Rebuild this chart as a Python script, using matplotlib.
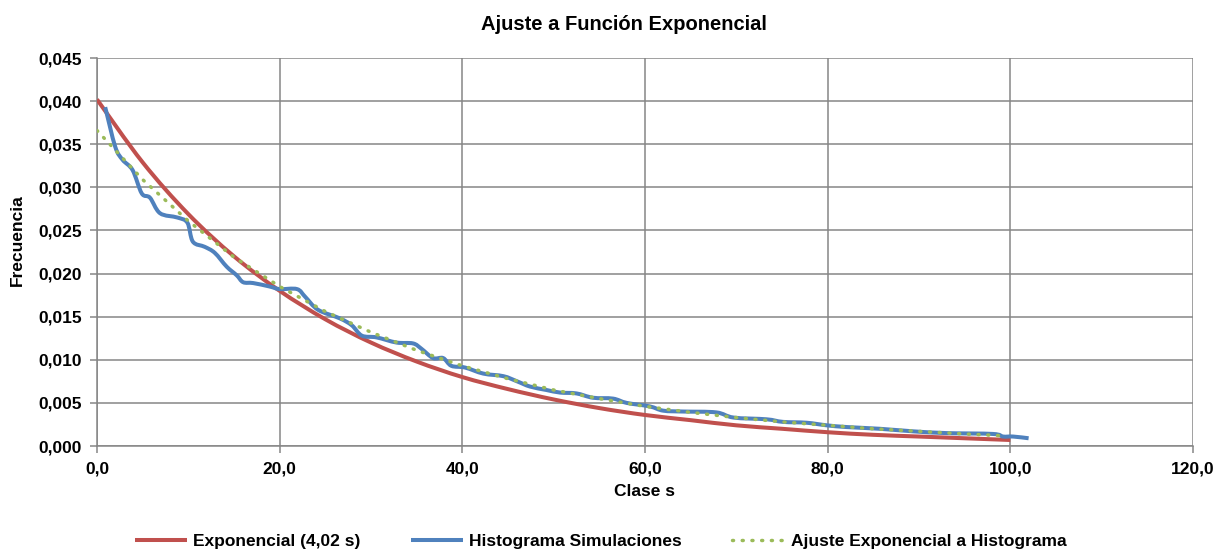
import numpy as np
import matplotlib
matplotlib.use('Agg')
import matplotlib.pyplot as plt
from matplotlib.path import Path
from matplotlib.patches import PathPatch
from matplotlib.lines import Line2D
from matplotlib.ticker import FuncFormatter, MultipleLocator

# Curva exponencial teórica (media 4,02 s)
exp_x = [0, 5, 10, 15, 20, 25, 30, 35, 40, 45, 50, 55, 60, 65, 70, 75, 80, 85, 90, 95, 100]
exp_y = [0.0402, 0.0329, 0.0269, 0.0220, 0.0180, 0.0147, 0.0120, 0.0098, 0.0080, 0.0066, 0.0054,
         0.0044, 0.0036, 0.0030, 0.0024, 0.0020, 0.0016, 0.0013, 0.0011, 0.0009, 0.0007]

# Histograma de las simulaciones
hist_x = [0.9, 2.0, 2.8, 3.9, 4.9, 5.8, 6.9, 8.8, 9.9, 10.5, 11.8, 12.9, 14.2, 15.3, 16.0, 17.1,
          18.9, 20.0, 21.9, 22.8, 24.2, 26.6, 27.9, 29.0, 30.6, 32.8, 34.6, 35.5, 36.8, 37.9, 38.8,
          40.3, 42.3, 44.5, 46.0, 47.4, 49.2, 50.7, 52.5, 54.3, 56.5, 58.0, 60.5, 62.0, 64.2, 67.8,
          69.7, 73.3, 75.1, 77.7, 79.9, 82.1, 85.7, 89.4, 93.0, 98.1, 99.2, 100.3, 102.0]
hist_y = [0.0393, 0.0347, 0.0332, 0.0320, 0.0293, 0.0288, 0.0270, 0.0265, 0.0259, 0.0237, 0.0231,
          0.0224, 0.0208, 0.0198, 0.0190, 0.0189, 0.0185, 0.0182, 0.0182, 0.0173, 0.0158, 0.0148,
          0.0140, 0.0128, 0.0126, 0.0120, 0.0119, 0.0113, 0.0102, 0.0102, 0.0093, 0.0091, 0.0084,
          0.0081, 0.0075, 0.0069, 0.0065, 0.0062, 0.0061, 0.0056, 0.0055, 0.0050, 0.0046, 0.0041,
          0.0040, 0.0039, 0.0033, 0.0031, 0.0028, 0.0027, 0.0024, 0.0022, 0.0020, 0.0017, 0.0015,
          0.0014, 0.0011, 0.0011, 0.0009]

# Ajuste exponencial al histograma
fit_x = [0, 5, 10, 15, 20, 25, 30, 35, 40, 45, 50, 55, 60, 65, 70, 75, 80, 85, 90, 95, 99]
fit_y = [0.0366, 0.0309, 0.0261, 0.0219, 0.0185, 0.0156, 0.0132, 0.0111, 0.0093, 0.0078, 0.0065,
         0.0055, 0.0046, 0.0039, 0.0033, 0.0028, 0.0024, 0.0020, 0.0017, 0.0014, 0.0012]

RED, BLUE, GREEN = '#C0504D', '#4F81BD', '#9BBB59'
DOTS = (0, (0.3, 2.5))


def smooth_path(xs, ys):
    # curva suavizada tipo Excel (Catmull-Rom -> Bezier cubico)
    p = np.column_stack([xs, ys])
    verts = [p[0]]
    codes = [Path.MOVETO]
    n = len(p)
    for i in range(n - 1):
        p0 = p[i - 1] if i > 0 else p[i]
        p3 = p[i + 2] if i + 2 < n else p[i + 1]
        c1 = p[i] + (p[i + 1] - p0) / 6
        c2 = p[i + 1] - (p3 - p[i]) / 6
        verts += [c1, c2, p[i + 1]]
        codes += [Path.CURVE4] * 3
    return Path(verts, codes)


plt.rcParams['font.family'] = ['Liberation Sans', 'DejaVu Sans']
plt.rcParams['font.weight'] = 'bold'

fig = plt.figure(figsize=(12.26, 5.54), dpi=100)
ax = fig.add_axes([0.0791, 0.1949, 0.894, 0.7004])

ax.add_patch(PathPatch(smooth_path(exp_x, exp_y), fill=False, edgecolor=RED, lw=2.9,
                       capstyle='butt', joinstyle='round', zorder=3))
ax.add_patch(PathPatch(smooth_path(hist_x, hist_y), fill=False, edgecolor=BLUE, lw=2.9,
                       capstyle='butt', joinstyle='round', zorder=4))
ax.plot(fit_x, fit_y, color=GREEN, lw=2.5, linestyle=DOTS, dash_capstyle='round', zorder=5)

ax.set_xlim(0, 120)
ax.set_ylim(0, 0.045)
ax.xaxis.set_major_locator(MultipleLocator(20))
ax.yaxis.set_major_locator(MultipleLocator(0.005))
ax.xaxis.set_major_formatter(FuncFormatter(lambda v, p: f'{v:.1f}'.replace('.', ',')))
ax.yaxis.set_major_formatter(FuncFormatter(lambda v, p: f'{v:.3f}'.replace('.', ',')))

ax.grid(True, color='#868686', lw=1.1)
ax.set_axisbelow(True)
for s in ['top', 'right']:
    ax.spines[s].set_visible(False)
for s in ['left', 'bottom']:
    ax.spines[s].set_color('#868686')
    ax.spines[s].set_linewidth(1.1)
ax.tick_params(axis='both', colors='#868686', labelcolor='black', labelsize=12.5,
               length=5, width=1.1)
ax.tick_params(axis='y', pad=6)
ax.tick_params(axis='x', pad=6)

fig.text(0.509, 0.955, 'Ajuste a Función Exponencial', ha='center', va='center',
         fontsize=14.5, fontweight='bold')
fig.text(0.014, 0.567, 'Frecuencia', rotation=90, ha='center', va='center',
         fontsize=12.5, fontweight='bold')
fig.text(0.526, 0.112, 'Clase s', ha='center', va='center', fontsize=12.5, fontweight='bold')

handles = [
    Line2D([], [], color=RED, lw=2.9, solid_capstyle='butt'),
    Line2D([], [], color=BLUE, lw=2.9, solid_capstyle='butt'),
    Line2D([], [], color=GREEN, lw=2.5, linestyle=DOTS, dash_capstyle='round'),
]
labels = ['Exponencial (4,02 s)', 'Histograma Simulaciones', 'Ajuste Exponencial a Histograma']
fig.legend(handles, labels, loc='center', bbox_to_anchor=(0.49, 0.022), ncol=3, frameon=False,
           fontsize=12.5, handlelength=3.0, columnspacing=2.9, handletextpad=0.35)

fig.savefig('out.png', dpi=100)
